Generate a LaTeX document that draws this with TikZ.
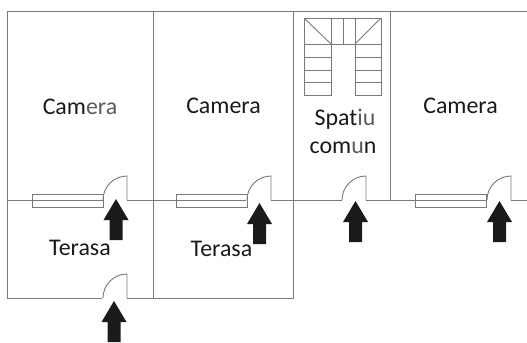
\documentclass[tikz,border=0pt]{standalone}
\usepackage{fontspec}
\setmainfont{Carlito}
\usetikzlibrary{positioning}
\definecolor{wallgray}{HTML}{7A7A7A}
\definecolor{arrowblack}{HTML}{1C1A1A}
\definecolor{fadetext}{HTML}{5A5A5A}
\tikzset{
  wall/.style={draw=wallgray,line width=0.9bp},
  room/.style={anchor=base,inner sep=0pt,font=\fontsize{24}{28}\selectfont,text=black!90},
  entry/.style={fill=arrowblack,draw=none}
}
\begin{document}
\begin{tikzpicture}[x=1bp,y=-1bp]
\useasboundingbox (0,0) rectangle (527,342);

% walls
\draw[wall] (7,298) -- (7,11) -- (527,11);
\draw[wall] (153,11) -- (153,298);
\draw[wall] (293.5,11) -- (293.5,298);
\draw[wall] (390,11) -- (390,200);
\draw[wall] (7,298) -- (102,298);
\draw[wall] (127,298) -- (293.5,298);
\draw[wall] (7,200) -- (103,200);
\draw[wall] (127,200) -- (246,200);
\draw[wall] (271,200) -- (342,200);
\draw[wall] (366,200) -- (486,200);
\draw[wall] (511,200) -- (527,200);

% windows
\foreach \x in {32,176,415} {
\draw[wall] (\x,194) rectangle (\x+71,207);
}

% doors
\foreach \x/\y in {127/200,271/200,366/200,511/200,127/298} {
\draw[wall] (\x,\y) -- (\x,\y-24) arc[start angle=90,end angle=180,x radius=24,y radius=-24];
}

% arrows
\foreach \x/\y in {116/199,259.5/203,114/301,355.5/201,499.5/201} {
\fill[entry] (\x,\y) -- ++(12.5,21) -- ++(-6,0) -- ++(0,20) -- ++(-13,0) -- ++(0,-20) -- ++(-6,0) -- cycle;
}

% stairs
\draw[wall] (331,44) -- (331,18) -- (304,18) -- (304,95) -- (331,95) -- (331,44);
\draw[wall] (355,44) -- (355,18) -- (381,18) -- (381,95) -- (355,95) -- (355,44);
\draw[wall] (331,18) -- (355,18);
\draw[wall] (343,18) -- (343,44);
\draw[wall] (304,18) -- (331,44);
\draw[wall] (381,18) -- (355,44);
\draw[wall] (304,44) -- (381,44);
\foreach \y in {57,70,82} {
\draw[wall] (304,\y) -- (331,\y);
\draw[wall] (355,\y) -- (381,\y);
}

% labels
\node[room] (camera1) at (80,114) {Cam\textcolor{fadetext}{era}};
\node[room] (camera2) at (223.5,113) {Camera};
\node[room] (camera3) at (460.5,113) {Camera};
\node[room] (spatiu) at (345,125) {Spat\textcolor{fadetext}{iu}};
\node[room] (comun) at (343,153) {com\textcolor{fadetext}{u}n};
\node[room] (terasa1) at (80,255) {Terasa};
\node[room] (terasa2) at (221.5,256) {Terasa};
\end{tikzpicture}
\end{document}
